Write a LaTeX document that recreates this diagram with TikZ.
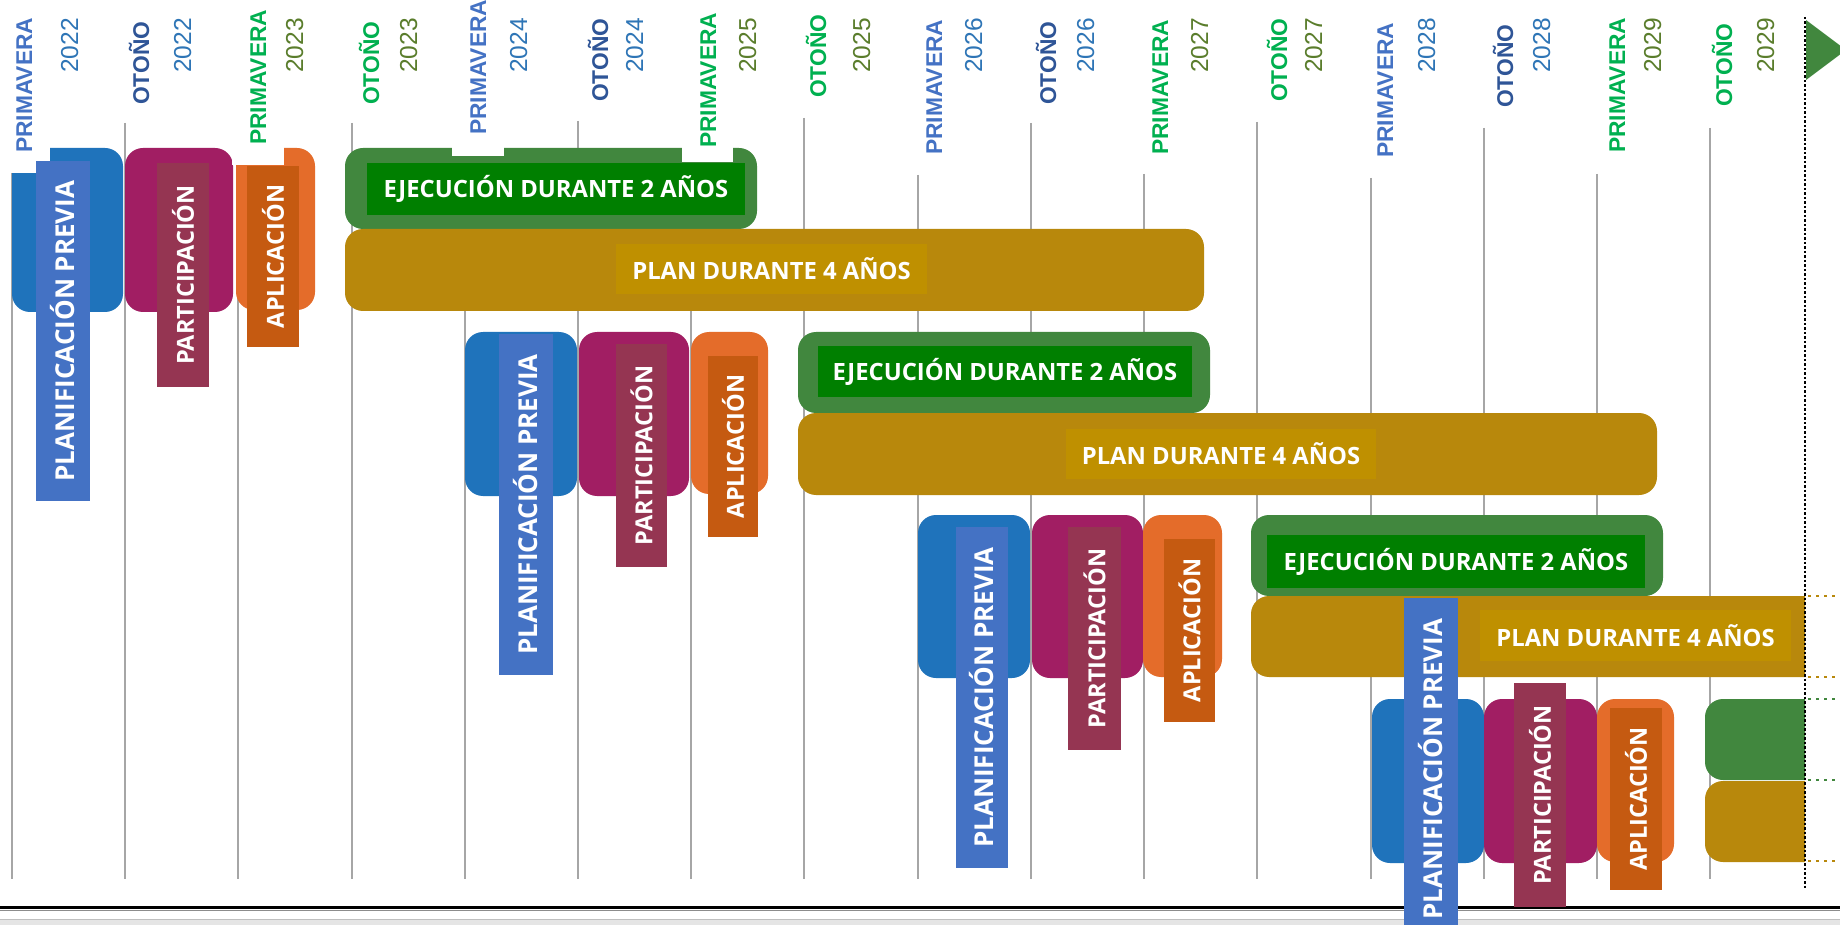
\documentclass[tikz,border=0pt]{standalone}
\usepackage{fontspec}
\usetikzlibrary{fit}
\newfontfamily\hdrfont{Liberation Sans}
\newfontfamily\lblfont{Open Sans}
\definecolor{cBlueBox}{HTML}{1F73BB}
\definecolor{cLBlue}{HTML}{4472C4}
\definecolor{cPurple}{HTML}{A11E63}
\definecolor{cMaroon}{HTML}{953552}
\definecolor{cOrange}{HTML}{E46C2A}
\definecolor{cDOrange}{HTML}{C55A11}
\definecolor{cGreen}{HTML}{41873E}
\definecolor{cInGreen}{HTML}{007F00}
\definecolor{cGold}{HTML}{B8880C}
\definecolor{cInGold}{HTML}{BF9000}
\definecolor{sBlue}{HTML}{4472C4}
\definecolor{sDBlue}{HTML}{2F5597}
\definecolor{sGreen}{HTML}{00B050}
\definecolor{yBlue}{HTML}{2E75B6}
\definecolor{yOlive}{HTML}{5A7D2C}
\definecolor{gridgray}{HTML}{A6A6A6}
\begin{document}
\begin{tikzpicture}[x=1pt,y=-1pt,
  gridline/.style={draw=gridgray, line width=2.5pt},
  bar/.style={rounded corners=18pt, inner sep=0pt, draw=none},
  tag/.style={rotate=90, inner sep=0pt, text=white, font=\lblfont\bfseries\fontsize{23.5pt}{26pt}\selectfont},
  bigtag/.style={tag, font=\lblfont\bfseries\fontsize{26pt}{30pt}\selectfont},
  inlbl/.style={inner sep=0pt, text=white, font=\lblfont\bfseries\fontsize{23.8pt}{26pt}\selectfont},
  season/.style={rotate=90, inner sep=0pt, anchor=base west, font=\hdrfont\bfseries\fontsize{22.8pt}{26pt}\selectfont},
  yearlbl/.style={rotate=90, inner sep=0pt, anchor=base west, font=\hdrfont\fontsize{24.5pt}{28pt}\selectfont},
  dotblack/.style={draw=black, line width=2.5pt, dash pattern=on 2.5pt off 2pt},
  dotcol/.style={line width=2.5pt, dash pattern=on 3pt off 5pt}
]
\useasboundingbox (0,0) rectangle (1840,925);
\fill[white] (0,0) rectangle (1840,925);

% bottom chrome
\fill[black!10] (0,919) rectangle (1840,925);
\draw[black!25, line width=1pt] (0,919) -- (1840,919);
\draw[black, line width=2.5pt] (0,907.5) -- (1840,907.5);
\draw[black!45, line width=1pt] (0,910) -- (1840,910);

% grid lines
\foreach \gx/\st in {12/173,125/123,238/175,352/123,465/175,578/121,691/175,804/118,918/175,1031/123,1144/174,1257/122,1371/178,1484/128,1597/174,1710/128}
  \draw[gridline] (\gx,\st) -- (\gx,879);

% cycle 1
\node[bar, fill=cBlueBox, fit={(12,148)(123,312)}] (pb1) {};
\node[bar, fill=cPurple, fit={(125,148)(233,312)}] (pp1) {};
\node[bar, fill=cOrange, fit={(236,148)(315,310)}] (po1) {};
\node[bar, fill=cGreen, fit={(345,148)(757,229)}] (ge1) {};
\node[bar, fill=cGold, fit={(345,229)(1204,311)}] (gp1) {};
% cycle 2
\node[bar, fill=cBlueBox, fit={(465,332)(577,496)}] (pb2) {};
\node[bar, fill=cPurple, fit={(579,332)(689,496)}] (pp2) {};
\node[bar, fill=cOrange, fit={(691,332)(768,494)}] (po2) {};
\node[bar, fill=cGreen, fit={(798,332)(1210,413)}] (ge2) {};
\node[bar, fill=cGold, fit={(798,413)(1657,495)}] (gp2) {};
% cycle 3
\node[bar, fill=cBlueBox, fit={(918,515)(1030,678)}] (pb3) {};
\node[bar, fill=cPurple, fit={(1032,515)(1143,678)}] (pp3) {};
\node[bar, fill=cOrange, fit={(1143,515)(1222,677)}] (po3) {};
\node[bar, fill=cGreen, fit={(1251,515)(1663,596)}] (ge3) {};
% cycle 4
\node[bar, fill=cBlueBox, fit={(1372,699)(1484,863)}] (pb4) {};
\node[bar, fill=cPurple, fit={(1484,699)(1597,863)}] (pp4) {};
\node[bar, fill=cOrange, fit={(1597,699)(1674,862)}] (po4) {};
\begin{scope}
  \clip (0,0) rectangle (1805,925);
  \node[bar, fill=cGold, fit={(1251,596)(1870,677)}] (gp3) {};
  \node[bar, fill=cGreen, fit={(1705,699)(1870,780)}] (ge4) {};
  \node[bar, fill=cGold, fit={(1705,781)(1870,862)}] (gp4) {};
\end{scope}

% inner labels of bars
\node[inlbl, fill=cInGreen, minimum width=378pt, minimum height=52pt] (te1) at (556,189) {EJECUCIÓN DURANTE 2 AÑOS};
\node[inlbl, fill=cInGold, minimum width=311pt, minimum height=50pt] (tp1) at (771.5,269) {PLAN DURANTE 4 AÑOS};
\node[inlbl, fill=cInGreen, minimum width=374pt, minimum height=51pt] (te2) at (1005,371.5) {EJECUCIÓN DURANTE 2 AÑOS};
\node[inlbl, fill=cInGold, minimum width=310pt, minimum height=50pt] (tp2) at (1221,454) {PLAN DURANTE 4 AÑOS};
\node[inlbl, fill=cInGreen, minimum width=378pt, minimum height=53pt] (te3) at (1456,561.5) {EJECUCIÓN DURANTE 2 AÑOS};
\node[inlbl, fill=cInGold, minimum width=311pt, minimum height=51pt] (tp3) at (1635.5,635.5) {PLAN DURANTE 4 AÑOS};

% dotted end line and continuation marks
\coordinate (dt) at (1805,17);
\coordinate (db) at (1805,888);
\draw[dotblack] (dt) -- (db);
\foreach \yy/\cc in {596/cGold,677/cGold,699/cGreen,780/cGreen,861/cGold}
  \draw[dotcol, draw=\cc] (1808,\yy) -- (1840,\yy);
\fill[cGreen] (1806,20) -- (1806,80) -- (1846,50) -- cycle;

% white backgrounds of the header labels
\fill[white] (-2,-1) rectangle (50,173);
\fill[white] (232,-1) rectangle (284,165);
\fill[white] (452,-1) rectangle (504,156);
\fill[white] (682,-1) rectangle (733,162);

% vertical tags
\node[bigtag, fill=cLBlue, minimum width=340pt, minimum height=54pt] (l1) at (63,331) {PLANIFICACIÓN PREVIA};
\node[tag, fill=cMaroon, minimum width=224pt, minimum height=52pt] (m1) at (183,275) {PARTICIPACIÓN};
\node[tag, fill=cDOrange, minimum width=181pt, minimum height=52pt] (a1) at (273,256.5) {APLICACIÓN};
\node[bigtag, fill=cLBlue, minimum width=341pt, minimum height=54pt] (l2) at (526,504.5) {PLANIFICACIÓN PREVIA};
\node[tag, fill=cMaroon, minimum width=223pt, minimum height=51pt] (m2) at (641.5,455.5) {PARTICIPACIÓN};
\node[tag, fill=cDOrange, minimum width=181pt, minimum height=50pt] (a2) at (733,446.5) {APLICACIÓN};
\node[bigtag, fill=cLBlue, minimum width=341pt, minimum height=52pt] (l3) at (982,697.5) {PLANIFICACIÓN PREVIA};
\node[tag, fill=cMaroon, minimum width=223pt, minimum height=53pt] (m3) at (1094.5,638.5) {PARTICIPACIÓN};
\node[tag, fill=cDOrange, minimum width=183pt, minimum height=51pt] (a3) at (1189.5,630.5) {APLICACIÓN};
\node[bigtag, fill=cLBlue, minimum width=342pt, minimum height=54pt] (l4) at (1431,769) {PLANIFICACIÓN PREVIA};
\node[tag, fill=cMaroon, minimum width=224pt, minimum height=52pt] (m4) at (1540,795) {PARTICIPACIÓN};
\node[tag, fill=cDOrange, minimum width=182pt, minimum height=52pt] (a4) at (1636,799) {APLICACIÓN};

% header labels
\foreach \k/\cx/\sb/\sn/\sc/\ycx/\yr/\yc in {
  0/24/153/PRIMAVERA/sBlue/69/2022/yBlue,
  1/141/105/OTOÑO/sDBlue/182/2022/yBlue,
  2/258/145/PRIMAVERA/sGreen/294/2023/yOlive,
  3/371/105/OTOÑO/sGreen/408/2023/yOlive,
  4/478/135/PRIMAVERA/sBlue/518/2024/yBlue,
  5/600/102/OTOÑO/sDBlue/634/2024/yBlue,
  6/708/148/PRIMAVERA/sGreen/747/2025/yOlive,
  7/818/98/OTOÑO/sGreen/861/2025/yOlive,
  8/934/155/PRIMAVERA/sBlue/973/2026/yBlue,
  9/1048/105/OTOÑO/sDBlue/1085/2026/yBlue,
  10/1160/155/PRIMAVERA/sGreen/1199/2027/yOlive,
  11/1279/102/OTOÑO/sGreen/1313/2027/yOlive,
  12/1385/158/PRIMAVERA/sBlue/1426/2028/yBlue,
  13/1505/108/OTOÑO/sDBlue/1541/2028/yBlue,
  14/1617/153/PRIMAVERA/sGreen/1652/2029/yOlive,
  15/1724/107/OTOÑO/sGreen/1765/2029/yOlive}
{
  \node[season, text=\sc] (s\k) at ({\cx+8},\sb) {\sn};
  \node[yearlbl, text=\yc] (y\k) at ({\ycx+9},73) {\yr};
}
\end{tikzpicture}
\end{document}
